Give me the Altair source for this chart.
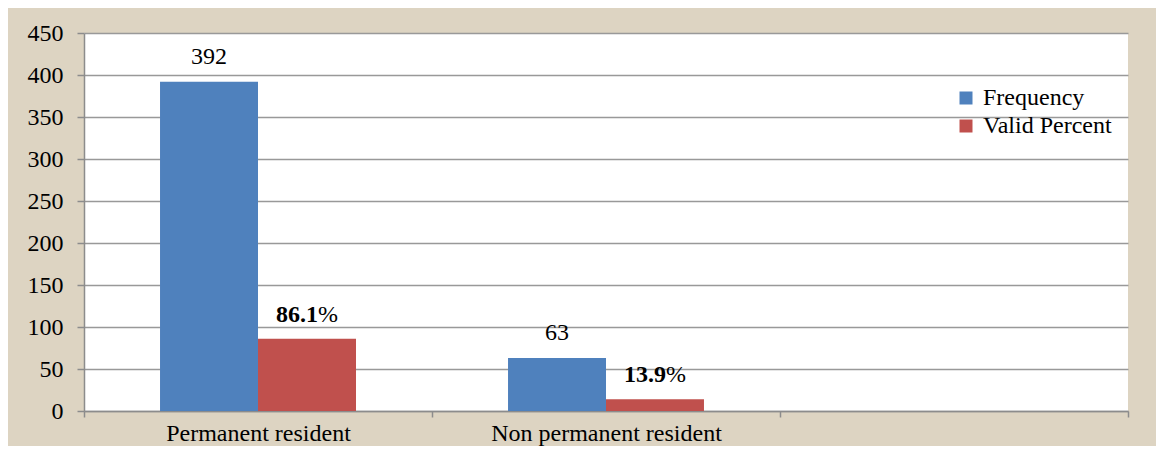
import altair as alt
import pandas as pd

categories = ["Permanent resident", "Non permanent resident", " "]
series = ["Frequency", "Valid Percent"]
frequency = [392, 63]
valid_percent = [86.1, 13.9]
freq_labels = ["392", "63"]
pct_labels = ["86.1", "13.9"]

rows = []
for i in range(2):
    rows.append({"category": categories[i], "series": series[0], "value": frequency[i],
                 "main": freq_labels[i], "suffix": ""})
    rows.append({"category": categories[i], "series": series[1], "value": valid_percent[i],
                 "main": pct_labels[i], "suffix": "%"})
df = pd.DataFrame(rows)

FONT = "Liberation Serif"
FS = 24

x = alt.X("category:N", scale=alt.Scale(domain=categories, paddingInner=0, paddingOuter=0),
          sort=categories,
          axis=alt.Axis(title=None, labelAngle=0, tickBand="extent", tickSize=6, labelPadding=4,
                        labelFontSize=FS, labelFont=FONT, labelColor="black", labelLimit=0,
                        domainColor="#8c8c8c", tickColor="#8c8c8c", domainWidth=1.5, tickWidth=1.5))
xoff = alt.XOffset("series:N", scale=alt.Scale(domain=series, paddingInner=0, paddingOuter=0.776))
y = alt.Y("value:Q", scale=alt.Scale(domain=[0, 450], nice=False),
          axis=alt.Axis(title=None, values=list(range(0, 451, 50)), tickSize=7, labelPadding=14,
                        labelFontSize=FS, labelFont=FONT, labelColor="black",
                        grid=True, gridColor="#999999", gridWidth=1.5,
                        domainColor="#8c8c8c", tickColor="#8c8c8c", domainWidth=1.5, tickWidth=1.5))

base = alt.Chart(df)

bars = base.mark_bar().encode(
    x=x, xOffset=xoff, y=y,
    color=alt.Color("series:N", scale=alt.Scale(domain=series, range=["#4f81bd", "#c0504d"]),
                    legend=alt.Legend(title=None, orient="none", legendX=870, legendY=53,
                                      symbolType="square", symbolSize=169, symbolStrokeWidth=0,
                                      labelFontSize=FS, labelFont=FONT, labelColor="black",
                                      labelOffset=5, rowPadding=4, padding=0, labelLimit=0)),
)

freq_text = base.transform_filter(alt.datum.series == "Frequency").mark_text(
    font=FONT, fontSize=FS, baseline="middle", dy=-25, color="black"
).encode(x=x, xOffset=xoff, y=y, text="main:N")

pct_main = base.transform_filter(alt.datum.series == "Valid Percent").mark_text(
    font=FONT, fontSize=FS, fontWeight="bold", baseline="middle", align="right", dx=11, dy=-24, color="black"
).encode(x=x, xOffset=xoff, y=y, text="main:N")

pct_suffix = base.transform_filter(alt.datum.series == "Valid Percent").mark_text(
    font=FONT, fontSize=FS, baseline="middle", align="left", dx=11, dy=-24, color="black"
).encode(x=x, xOffset=xoff, y=y, text="suffix:N")

chart = alt.layer(bars, freq_text, pct_main, pct_suffix).properties(
    width=1044, height=378,
    autosize=alt.AutoSizeParams(type="none"),
    padding={"left": 76, "top": 25, "right": 28, "bottom": 35},
    background="#ddd4c2",
).configure_view(fill="white", stroke=None)

chart.save("out.html", embed_options={"renderer": "svg", "actions": False})
